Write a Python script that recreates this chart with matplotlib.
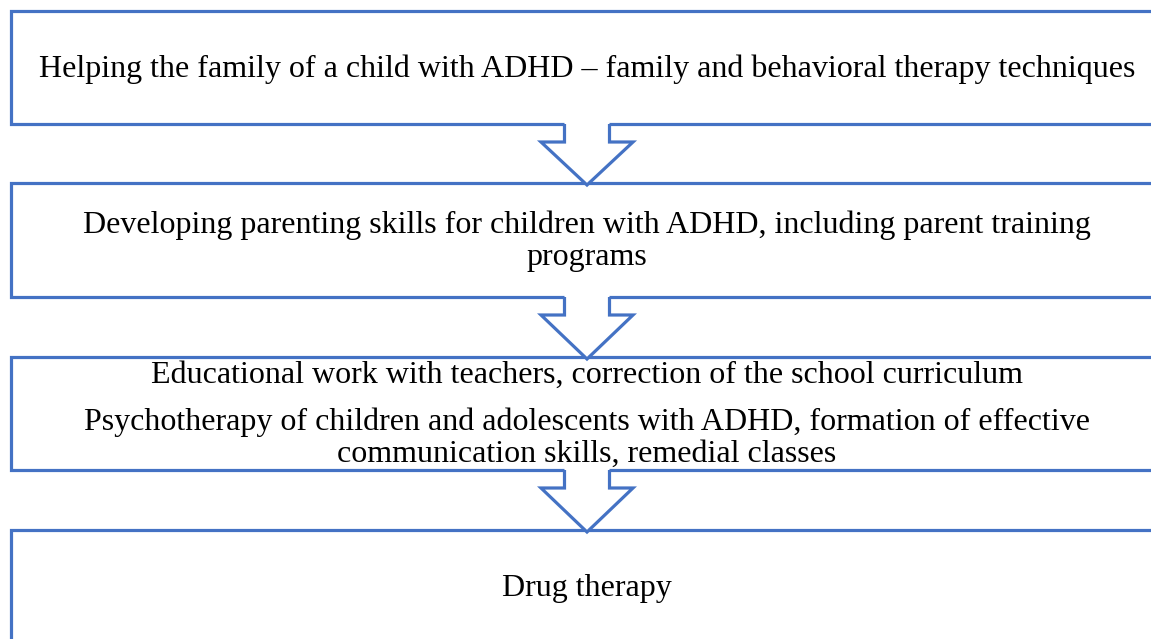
import matplotlib
matplotlib.use("Agg")
import matplotlib.pyplot as plt
from matplotlib.patches import Rectangle, Polygon

# ---- content ----
box_lines = [
    ["Helping the family of a child with ADHD \u2013 family and behavioral therapy techniques"],
    ["Developing parenting skills for children with ADHD, including parent training",
     "programs"],
    ["Educational work with teachers, correction of the school curriculum",
     "Psychotherapy of children and adolescents with ADHD, formation of effective",
     "communication skills, remedial classes"],
    ["Drug therapy"],
]

# ---- layout (pixels) ----
W, H = 1151, 639
box_left, box_right = 11, 1163
box_tops = [11, 183, 357, 530]
box_bottoms = [124, 297, 470, 700]
baselines = [[77], [233, 265], [383, 430, 462], [596]]
cx = 587
shaft_half = 22.5
head_half = 46
BLUE = "#4472C4"
LW = 2.3
FS = 23.0

fig = plt.figure(figsize=(W / 100, H / 100), dpi=100)
ax = fig.add_axes([0, 0, 1, 1])
ax.set_xlim(0, W)
ax.set_ylim(H, 0)
ax.axis("off")

for top, bot, lines, bls in zip(box_tops, box_bottoms, box_lines, baselines):
    ax.add_patch(Rectangle((box_left, top), box_right - box_left, bot - top,
                           facecolor="white", edgecolor=BLUE, linewidth=LW,
                           zorder=1, clip_on=False))
    for t, b in zip(lines, bls):
        ax.text(cx, b, t, ha="center", va="baseline", fontsize=FS,
                family="Liberation Serif", color="black", zorder=5)

# arrows between boxes
for i in range(3):
    top = box_bottoms[i]
    shoulder = top + 18
    tip = box_tops[i + 1] + 2
    pts = [(cx - shaft_half, top), (cx - shaft_half, shoulder),
           (cx - head_half, shoulder), (cx, tip), (cx + head_half, shoulder),
           (cx + shaft_half, shoulder), (cx + shaft_half, top)]
    fill = [(cx - shaft_half, top - 3)] + pts[1:-1] + [(cx + shaft_half, top - 3)]
    ax.add_patch(Polygon(fill, closed=True, facecolor="white", edgecolor="none",
                         zorder=2))
    xs, ys = zip(*pts)
    ax.plot(xs, ys, color=BLUE, linewidth=LW, zorder=3,
            solid_joinstyle="miter", solid_capstyle="butt")

fig.savefig("out.png", dpi=100)
